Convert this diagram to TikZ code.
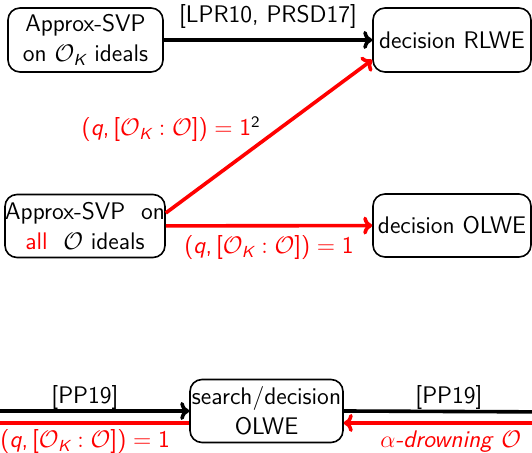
\documentclass[tikz,border=0pt]{standalone}
\usepackage{amsmath}
\usetikzlibrary{arrows.meta,calc}
% sans-serif pieces inside formulas, slide style
\newcommand\sfit[1]{\text{\itshape #1}}
\newcommand\cond{$\text{(}\sfit{q}\mathpunct{\text{,}}\text{[}\mathcal{O}_{\sfit{K}}:\mathcal{O}\text{])}=\text{1}$}
\begin{document}
\begin{tikzpicture}[x=0.5pt,y=-0.5pt,
  every node/.style={font=\sffamily\fontsize{12}{15}\selectfont},
  box/.style={draw, line width=0.8pt, rounded corners=6pt, align=center,
    inner sep=0pt, minimum height=31.5pt},
  blk/.style={line width=1.8pt, -{To[length=4.5pt,width=9pt]}},
  red link/.style={blk, red},
  lbl/.style={inner sep=0pt},
  rlbl/.style={lbl, text=red}]
\useasboundingbox (0,0) rectangle (532,453);
\clip (0,0) rectangle (532,453);

% problems
\node[box, minimum width=77.5pt, minimum height=32pt] (A) at (85.5,40)
  {Approx-SVP\\on $\mathcal{O}_{\sfit{K}}$ ideals};
\node[box, minimum width=79pt, minimum height=32pt] (B) at (452,40) {decision RLWE};
\node[box, minimum width=80pt] (C) at (85,226)
  {Approx-SVP\ \ on\\\textcolor{red}{all}\ \ $\mathcal{O}$ ideals};
\node[box, minimum width=79pt] (D) at (452,225.5) {decision OLWE};
\node[box, minimum width=76.5pt] (E) at (266.5,411) {search/decision\\OLWE};

% reductions
\draw[blk] (A) -- (B)
  node[lbl, midway, above=5pt] (l1) {[LPR10, PRSD17]};
\draw[red link] ($(C.east)+(0,-13)$) -- (B.194);
\node[rlbl, anchor=base east] (l2) at (261,136)
  {\cond\textcolor{black}{$^{\text{2}}$}};
\draw[red link] (C) -- (D)
  node[rlbl, midway, below=4pt] (l3) {\cond};

% links leaving the frame
\coordinate (wl) at (-20,411);
\coordinate (wr) at (-20,423);
\coordinate (el) at (560,412);
\coordinate (er) at (560,423);
\draw[blk] (wl) -- (E.west);
\draw[red link] ($(E.west)+(0,12)$) -- (wr);
\draw[blk] (E.east) -- (el);
\draw[red link] (er) -- ($(E.east)+(0,12)$);
\node[lbl] (l4) at (85,398) {[PP19]};
\node[lbl] (l5) at (449,398) {[PP19]};
\node[rlbl, anchor=west] (l6) at (0,442) {\cond};
\node[rlbl, anchor=west] (l7) at (380,442) {$\alpha$\textit{-drowning} $\mathcal{O}$};
\end{tikzpicture}
\end{document}
